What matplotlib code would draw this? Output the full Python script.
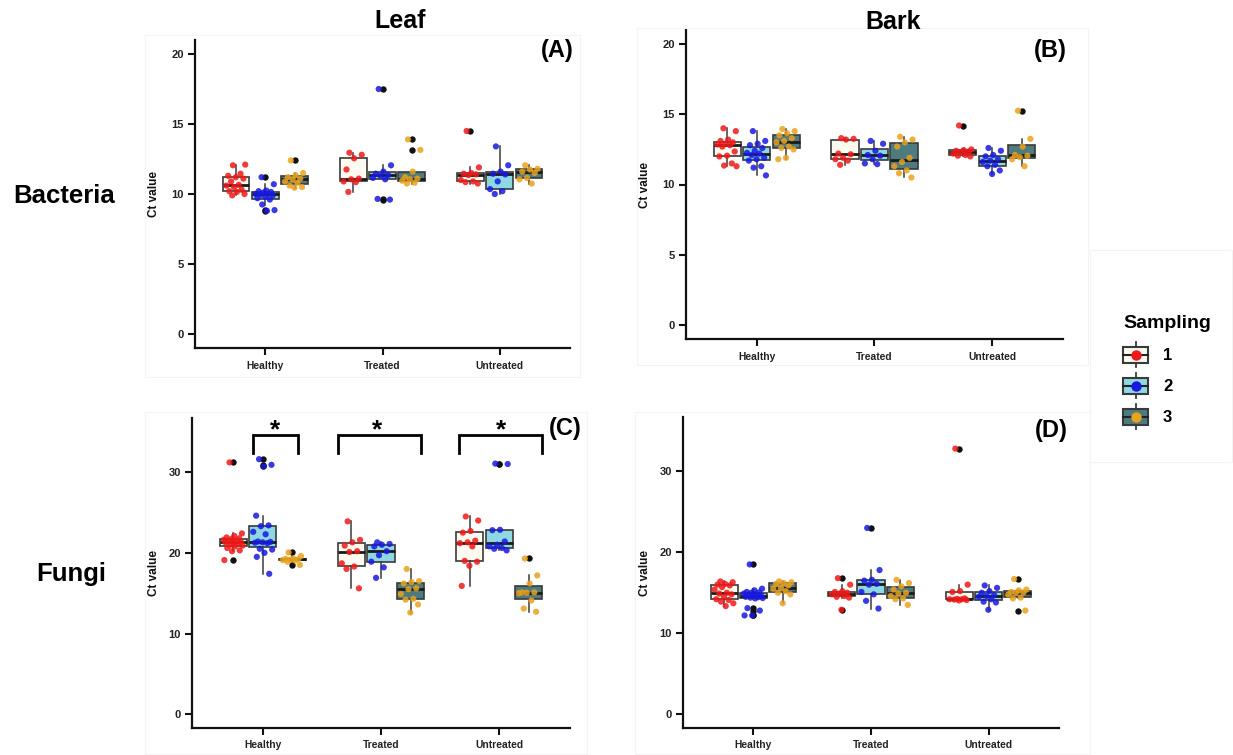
import matplotlib
matplotlib.use('Agg')
import matplotlib.pyplot as plt
import numpy as np
from matplotlib.legend_handler import HandlerBase
from matplotlib.patches import Rectangle
from matplotlib.lines import Line2D

plt.rcParams['font.family'] = ['Liberation Sans', 'DejaVu Sans']
plt.rcParams['font.weight'] = 'bold'

categories = ['Healthy', 'Treated', 'Untreated']
samplings = ['1', '2', '3']
box_fills = ['#FDFAF0', '#8ED8E4', '#4E7B80']
point_colors = ['#F01818', '#1818E0', '#E8A21C']

# ---- (A) Leaf / Bacteria ----
a_healthy_1 = [9.9, 10.0, 10.15, 10.2, 10.3, 10.5, 10.6, 10.65, 10.9, 11.1, 11.2, 11.3, 11.45, 12.05, 12.1]
a_healthy_2 = [11.2, 10.7, 10.25, 10.2, 10.15, 10.1, 10.0, 10.0, 9.95, 9.9, 9.8, 9.7, 9.6, 9.25, 8.85, 8.8]
a_healthy_3 = [12.4, 11.5, 11.35, 11.2, 11.1, 11.05, 10.9, 10.8, 10.6, 10.5, 10.45]
a_treated_1 = [12.95, 12.8, 12.55, 11.75, 11.1, 11.05, 10.9, 10.85, 10.15]
a_treated_2 = [17.5, 12.05, 11.6, 11.45, 11.35, 11.3, 11.15, 11.05, 9.65, 9.6]
a_treated_3 = [13.9, 13.15, 11.6, 11.2, 11.1, 11.05, 10.95, 10.8, 10.75]
a_untreated_1 = [14.5, 11.9, 11.5, 11.45, 11.4, 11.35, 11.0, 10.9, 10.85, 10.75]
a_untreated_2 = [13.4, 12.05, 11.6, 11.45, 11.4, 10.9, 10.35, 10.2, 10.0]
a_untreated_3 = [12.05, 11.8, 11.75, 11.6, 11.5, 11.15, 11.05, 10.75]

# ---- (B) Bark / Bacteria ----
b_healthy_1 = [14.0, 13.8, 13.2, 13.1, 13.0, 12.9, 12.85, 12.8, 12.7, 12.35, 12.05, 12.0, 11.5, 11.35, 11.3]
b_healthy_2 = [13.8, 13.1, 12.9, 12.8, 12.6, 12.4, 12.25, 12.2, 12.1, 11.9, 11.8, 11.7, 11.3, 11.2, 10.65]
b_healthy_3 = [13.95, 13.8, 13.65, 13.5, 13.3, 13.1, 13.0, 12.7, 12.6, 12.5, 11.9, 11.8]
b_treated_1 = [13.3, 13.25, 13.2, 12.2, 12.15, 11.9, 11.8, 11.7, 11.4]
b_treated_2 = [13.1, 12.9, 12.4, 12.1, 12.05, 11.8, 11.5, 11.45]
b_treated_3 = [13.4, 13.2, 13.0, 12.7, 11.9, 11.6, 11.3, 11.0, 10.8, 10.5]
b_untreated_1 = [14.2, 12.5, 12.45, 12.4, 12.35, 12.3, 12.2, 12.1, 12.05, 12.0]
b_untreated_2 = [12.6, 12.4, 12.1, 12.0, 11.8, 11.7, 11.6, 11.4, 11.3, 11.0, 10.75]
b_untreated_3 = [15.25, 13.25, 12.7, 12.1, 12.05, 11.95, 11.8, 11.3]

# ---- (C) Leaf / Fungi ----
c_healthy_1 = [31.2, 22.4, 22.1, 21.9, 21.8, 21.7, 21.6, 21.5, 21.4, 21.35, 21.3, 21.3, 21.2, 21.0, 20.9, 20.8, 20.6, 20.3, 20.2, 19.1]
c_healthy_2 = [31.6, 30.9, 30.7, 24.6, 23.4, 23.3, 22.6, 22.3, 21.4, 21.35, 21.3, 21.25, 21.2, 20.5, 20.4, 20.0, 19.5, 17.4]
c_healthy_3 = [20.05, 19.6, 19.3, 19.25, 19.2, 19.15, 19.1, 19.05, 18.9, 18.5]
c_treated_1 = [23.9, 21.6, 21.3, 20.9, 20.2, 20.1, 18.7, 18.3, 18.0, 15.6]
c_treated_2 = [21.3, 21.1, 21.0, 20.8, 20.2, 19.7, 18.9, 18.2, 16.9]
c_treated_3 = [18.0, 16.5, 16.4, 16.2, 15.6, 15.5, 14.9, 14.3, 14.2, 13.6, 12.6]
c_untreated_1 = [24.5, 24.0, 22.7, 22.5, 21.5, 21.3, 21.2, 20.8, 19.0, 18.9, 18.4, 15.9]
c_untreated_2 = [31.05, 31.0, 22.85, 22.8, 21.4, 21.0, 20.8, 20.6, 20.5, 20.3]
c_untreated_3 = [19.3, 17.2, 16.2, 15.1, 15.1, 15.05, 15.0, 14.1, 13.1, 12.7]

# ---- (D) Bark / Fungi ----
d_healthy_1 = [16.4, 16.3, 16.1, 16.0, 15.9, 15.7, 15.4, 15.0, 14.9, 14.8, 14.5, 14.2, 14.1, 13.9, 13.7, 13.35]
d_healthy_2 = [18.5, 15.5, 15.3, 15.1, 15.05, 15.0, 14.9, 14.8, 14.7, 14.65, 14.6, 14.5, 14.45, 14.4, 14.35, 14.3, 13.1, 12.8, 12.2, 12.2]
d_healthy_3 = [16.4, 16.3, 16.2, 16.1, 15.9, 15.6, 15.5, 15.2, 15.0, 14.8, 13.7]
d_treated_1 = [16.8, 16.0, 15.2, 15.1, 15.0, 14.9, 14.8, 14.6, 14.5, 14.4, 12.9]
d_treated_2 = [23.0, 17.8, 16.6, 16.5, 16.1, 16.0, 15.1, 14.8, 14.0, 13.05]
d_treated_3 = [16.6, 16.2, 15.8, 15.4, 15.0, 14.9, 14.6, 14.3, 14.2, 13.5]
d_untreated_1 = [32.8, 16.0, 15.2, 15.1, 14.3, 14.25, 14.2, 14.2, 14.15, 14.1, 14.05]
d_untreated_2 = [15.9, 15.6, 15.2, 15.0, 14.7, 14.6, 14.5, 14.2, 13.9, 13.8, 12.9]
d_untreated_3 = [16.7, 15.4, 15.3, 15.1, 15.05, 15.0, 14.8, 14.4, 14.3, 12.8]

yticks_bact = [0, 5, 10, 15, 20]
yticks_fungi = [0, 10, 20, 30]

W, H = 1233, 755
fig = plt.figure(figsize=(W / 100, H / 100), dpi=100)


def fx(px):
    return px / W


def fy(py):
    return 1 - py / H


def add_axes(left, top, right, bottom):
    return fig.add_axes([fx(left), fy(bottom), fx(right) - fx(left), (bottom - top) / H])


# faint panel frames
for (x0, y0, x1, y1) in [(145, 35, 580, 377), (637, 28, 1088, 365), (145, 412, 587, 754),
                         (635, 412, 1090, 754), (1090, 250, 1232, 462)]:
    fig.add_artist(Rectangle((fx(x0), fy(y1)), fx(x1) - fx(x0), (y1 - y0) / H,
                             transform=fig.transFigure, fill=False, edgecolor='#f4f4f4', lw=0.8))

offsets = [-0.25, 0.0, 0.25]


def draw_panel(ax, groups, ylim, yticks, label, label_xy, ylab_x):
    for ci, cat_groups in enumerate(groups):
        for si, vals in enumerate(cat_groups):
            pos = ci + offsets[si]
            ax.boxplot([vals], positions=[pos], widths=0.23, patch_artist=True, showcaps=False,
                       manage_ticks=False,
                       boxprops=dict(facecolor=box_fills[si], edgecolor='#3a3a3a', linewidth=1.2),
                       medianprops=dict(color='#1a1a1a', linewidth=2.0),
                       whiskerprops=dict(color='#3a3a3a', linewidth=1.1),
                       flierprops=dict(marker='o', markerfacecolor='#111111', markeredgecolor='none',
                                       markersize=4.6))
            n = len(vals)
            jit = ((np.arange(n) * 0.618034 + 0.31) % 1 - 0.5) * 0.17
            ax.scatter(pos + jit, vals, s=20, color=point_colors[si], alpha=0.85,
                       edgecolors='none', zorder=3)
    ax.set_xlim(-0.6, 2.6)
    ax.set_ylim(*ylim)
    ax.set_xticks([0, 1, 2])
    ax.set_xticklabels(categories)
    ax.set_yticks(yticks)
    for s in ['top', 'right']:
        ax.spines[s].set_visible(False)
    for s in ['left', 'bottom']:
        ax.spines[s].set_linewidth(1.6)
        ax.spines[s].set_color('#111111')
    ax.tick_params(axis='both', length=5, width=1.5, color='#111111', labelcolor='#222222')
    ax.tick_params(axis='x', labelsize=7.4, pad=4)
    ax.tick_params(axis='y', labelsize=8, pad=3)
    for t in ax.get_xticklabels() + ax.get_yticklabels():
        t.set_fontweight('bold')
    ax.set_ylabel('Ct value', fontsize=8.5, fontweight='bold', color='#111111')
    ax.yaxis.set_label_coords(ylab_x, 0.5)
    fig.text(fx(label_xy[0]), fy(label_xy[1]), label, fontsize=17, fontweight='bold',
             ha='center', va='center')


axA = add_axes(195, 40, 570, 348)
axB = add_axes(686, 30, 1063, 339)
axC = add_axes(192, 418, 570, 728)
axD = add_axes(683, 417, 1059, 728)

draw_panel(axA, [[a_healthy_1, a_healthy_2, a_healthy_3],
                 [a_treated_1, a_treated_2, a_treated_3],
                 [a_untreated_1, a_untreated_2, a_untreated_3]],
           (-1, 21), yticks_bact, '(A)', (557, 50), -0.093)
draw_panel(axB, [[b_healthy_1, b_healthy_2, b_healthy_3],
                 [b_treated_1, b_treated_2, b_treated_3],
                 [b_untreated_1, b_untreated_2, b_untreated_3]],
           (-1, 21), yticks_bact, '(B)', (1050, 50), -0.093)
draw_panel(axC, [[c_healthy_1, c_healthy_2, c_healthy_3],
                 [c_treated_1, c_treated_2, c_treated_3],
                 [c_untreated_1, c_untreated_2, c_untreated_3]],
           (-1.7, 36.7), yticks_fungi, '(C)', (565, 429), -0.085)
draw_panel(axD, [[d_healthy_1, d_healthy_2, d_healthy_3],
                 [d_treated_1, d_treated_2, d_treated_3],
                 [d_untreated_1, d_untreated_2, d_untreated_3]],
           (-1.7, 36.7), yticks_fungi, '(D)', (1051, 430), -0.085)

# significance brackets in panel C
bracket_spans = [(-0.085, 0.30), (0.64, 1.34), (1.66, 2.36)]
star_x = [0.10, 0.97, 2.02]
bracket_top, bracket_low, star_base = 34.6, 32.4, 34.3
for (x0, x1), sx in zip(bracket_spans, star_x):
    axC.plot([x0, x0, x1, x1], [bracket_low, bracket_top, bracket_top, bracket_low],
             color='black', lw=2.0, clip_on=False, solid_joinstyle='miter')
    axC.text(sx, star_base, '*', fontsize=19, fontweight='bold', ha='center', va='baseline',
             clip_on=False)

# column / row headers
fig.text(fx(400), fy(21), 'Leaf', fontsize=18, fontweight='bold', ha='center', va='center')
fig.text(fx(893), fy(22), 'Bark', fontsize=18, fontweight='bold', ha='center', va='center')
fig.text(fx(64), fy(196), 'Bacteria', fontsize=18.5, fontweight='bold', ha='center', va='center')
fig.text(fx(71), fy(574), 'Fungi', fontsize=18.5, fontweight='bold', ha='center', va='center')


# legend
class Key:
    def __init__(self, fill, dot):
        self.fill = fill
        self.dot = dot


class KeyHandler(HandlerBase):
    def create_artists(self, legend, orig_handle, xdescent, ydescent, width, height, fontsize, trans):
        x0 = -xdescent
        y0 = -ydescent
        cx = x0 + width / 2
        bh = height * 0.64
        by = y0 + (height - bh) / 2
        rect = Rectangle((x0, by), width, bh, facecolor=orig_handle.fill, edgecolor='#3a3a3a',
                         lw=1.5, transform=trans)
        med = Line2D([x0, x0 + width], [by + bh / 2] * 2, color='#222222', lw=1.5, transform=trans)
        w1 = Line2D([cx, cx], [y0, by], color='#3a3a3a', lw=1.3, transform=trans)
        w2 = Line2D([cx, cx], [by + bh, y0 + height], color='#3a3a3a', lw=1.3, transform=trans)
        dot = Line2D([cx], [by + bh / 2], marker='o', markersize=7.5, color=orig_handle.dot,
                     markeredgecolor='none', transform=trans)
        return [rect, med, w1, w2, dot]


handles = [Key(box_fills[i], point_colors[i]) for i in range(3)]
leg = fig.legend(handles=handles, labels=samplings, handler_map={Key: KeyHandler()},
                 title='Sampling', title_fontproperties={'size': 14, 'weight': 'bold'},
                 prop={'size': 12, 'weight': 'bold'}, frameon=False, loc='center',
                 bbox_to_anchor=(fx(1167), fy(372)), handlelength=1.5, handleheight=1.93,
                 labelspacing=0.36, handletextpad=0.9, alignment='left', borderpad=0.2)
leg._legend_box.sep = 7.5

fig.savefig('out.png', dpi=100)
